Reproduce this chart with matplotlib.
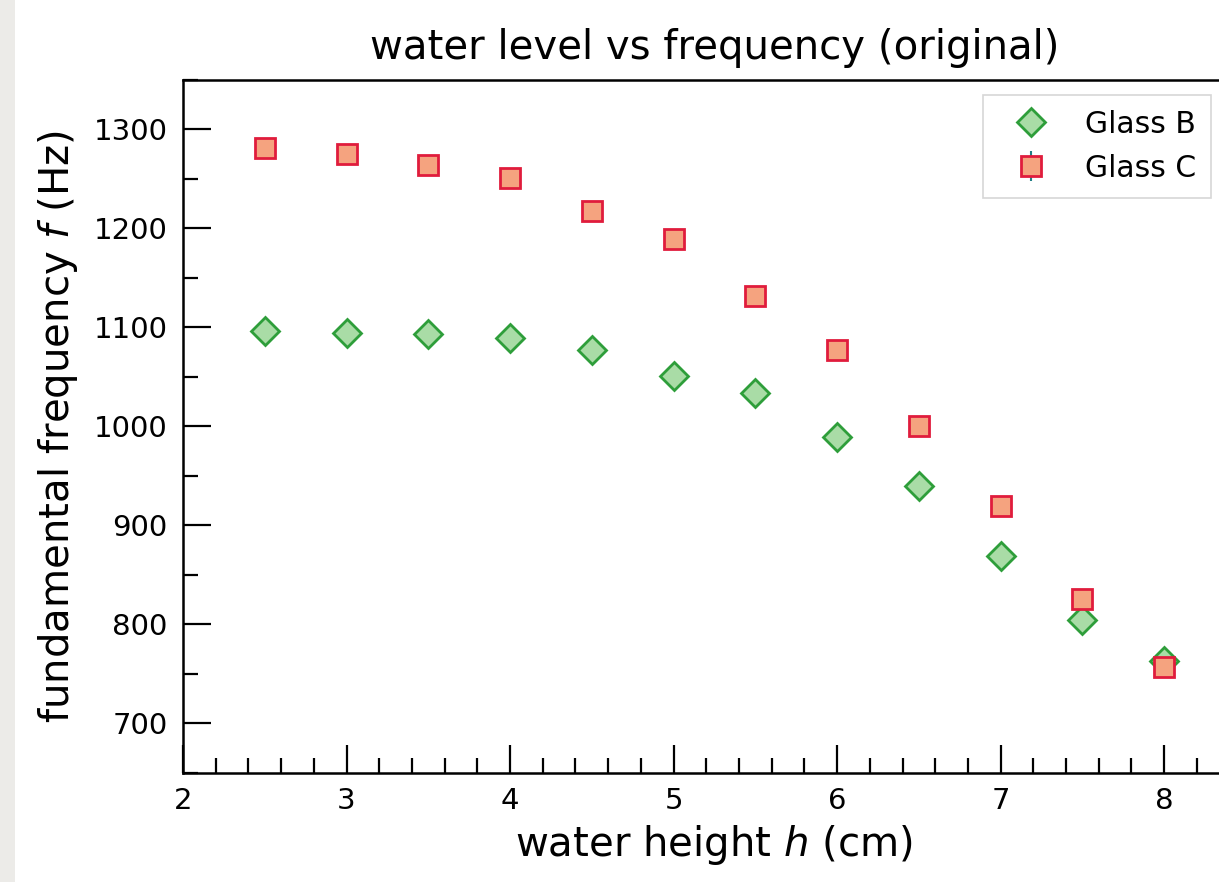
import matplotlib
matplotlib.use("Agg")
import matplotlib.pyplot as plt
from matplotlib.patches import Rectangle
from matplotlib.ticker import MultipleLocator

# water height (cm)
heights = [2.5, 3.0, 3.5, 4.0, 4.5, 5.0, 5.5, 6.0, 6.5, 7.0, 7.5, 8.0]
# fundamental frequency (Hz)
freq_glass_b = [1096, 1094, 1093, 1089, 1077, 1051, 1034, 989, 940, 869, 805, 763]
freq_glass_c = [1281, 1275, 1264, 1251, 1218, 1189, 1132, 1077, 1000, 920, 826, 757]
err_glass_b = [4] * len(heights)
err_glass_c = [4] * len(heights)
series_labels = ["Glass B", "Glass C"]

plt.rcParams["font.family"] = "DejaVu Sans"
plt.rcParams["mathtext.fontset"] = "dejavusans"

fig = plt.figure(figsize=(12.19, 8.82), dpi=100)
fig.patches.append(Rectangle((0, 0), 15 / 1219, 1, transform=fig.transFigure,
                             facecolor="#ecebe8", edgecolor="none", zorder=0))

ax = fig.add_axes([0.1501, 0.1236, 0.872, 0.7857])

ax.errorbar(heights, freq_glass_b, yerr=err_glass_b, fmt="D", ms=14,
            mfc="#a9dca6", mec="#2e9e3a", mew=2.0, ecolor="#1f7f86",
            elinewidth=1.5, capsize=0, label=series_labels[0], zorder=3)
ax.errorbar(heights, freq_glass_c, yerr=err_glass_c, fmt="s", ms=14.5,
            mfc="#f5a37f", mec="#e01c3c", mew=2.0, ecolor="#1f7f86",
            elinewidth=1.5, capsize=0, label=series_labels[1], zorder=4)

ax.set_xlim(2, 8.5)
ax.set_ylim(650, 1350)
ax.xaxis.set_major_locator(MultipleLocator(1))
ax.xaxis.set_minor_locator(MultipleLocator(0.2))
ax.yaxis.set_major_locator(MultipleLocator(100))
ax.yaxis.set_minor_locator(MultipleLocator(50))
ax.tick_params(which="both", direction="in", top=False, right=False,
               width=1.6, labelsize=21)
ax.tick_params(which="major", length=20)
ax.tick_params(which="minor", length=11)
ax.tick_params(axis="x", which="major", pad=10)
ax.tick_params(axis="y", which="major", pad=11)
for s in ax.spines.values():
    s.set_linewidth(1.8)

ax.set_title("water level vs frequency (original)", fontsize=29, pad=15)
ax.set_xlabel("water height $h$ (cm)", fontsize=29, labelpad=6)
ax.set_ylabel("fundamental frequency $f$ (Hz)", fontsize=29, labelpad=10)

leg = ax.legend(loc="upper left", bbox_to_anchor=(983 / 1219, 1 - 95 / 882),
                bbox_transform=fig.transFigure, fontsize=21.5, frameon=True,
                fancybox=False, edgecolor="#cccccc", borderpad=0.5,
                handlelength=2.2, handletextpad=0.7, labelspacing=0.5,
                borderaxespad=0)
leg.get_frame().set_linewidth(1.2)

fig.savefig("out.png", dpi=100)
